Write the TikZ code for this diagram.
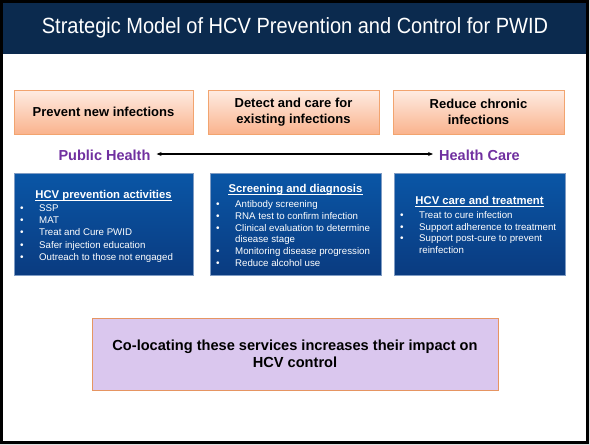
\documentclass[tikz,border=0pt]{standalone}
\usepackage{fontspec}
\setmainfont{Liberation Sans}
\newfontfamily\headfont[FakeStretch=0.91]{Liberation Sans}
\usetikzlibrary{arrows.meta}

\definecolor{navy}{HTML}{0B2A4E}
\definecolor{orangeedge}{HTML}{F2A46F}
\definecolor{orangetop}{HTML}{FEECE3}
\definecolor{orangebot}{HTML}{FAB38D}
\definecolor{bluetop}{HTML}{0A56A6}
\definecolor{bluebot}{HTML}{0A3B80}
\definecolor{blueedge}{HTML}{7F9CC4}
\definecolor{phpurple}{HTML}{7030A0}
\definecolor{lavender}{HTML}{DAC7EE}
\definecolor{lavenderedge}{HTML}{E69562}

\begin{document}
\begin{tikzpicture}[x=1pt,y=-1pt,
  goal/.style={draw=orangeedge, line width=0.8pt, top color=orangetop,
    bottom color=orangebot, minimum height=44pt, align=center,
    inner sep=0pt, font=\fontsize{13}{16}\selectfont\bfseries},
  panel/.style={draw=blueedge, line width=0.6pt, top color=bluetop,
    bottom color=bluebot, minimum width=171pt, minimum height=102pt,
    inner sep=0pt},
  sector/.style={text=phpurple, inner sep=2pt,
    font=\fontsize{14.5}{17}\selectfont\bfseries},
  paneltitle/.style={text=white, inner sep=0pt, anchor=base,
    font=\fontsize{11.3}{13}\selectfont\bfseries},
  dot/.style={text=white, inner sep=0pt, anchor=base west,
    font=\fontsize{10}{12}\selectfont},
  item/.style={text=white, inner sep=0pt, anchor=base west,
    font=\fontsize{9.7}{12}\selectfont},
  ul/.style={white, line width=0.8pt}
]
\useasboundingbox (0,0) rectangle (590,445);

% page background and frame
\fill[gray!25] (0,0) rectangle (590,445);
\fill[white] (0,0) rectangle (588.5,443.5);
\fill[navy] (0,0) rectangle (588,54);
\draw[black, line width=3pt] (1.5,1.5) rectangle (587,442);

% title
\node[text=white, inner sep=0pt, anchor=base,
  font=\headfont\fontsize{22}{25}\selectfont] (title) at (295,33.5)
  {Strategic Model of HCV Prevention and Control for PWID};

% goals
\node[goal, minimum width=179pt] (g1) at (103.5,112) {Prevent new infections};
\node[goal, minimum width=171pt] (g2) at (293.5,112) {Detect and care for\\existing infections};
\node[goal, minimum width=171pt] (g3) at (478.5,112) {Reduce chronic\\infections};

% sectors
\node[sector] (ph) at (104.5,155.5) {Public Health};
\node[sector] (hc) at (479.5,155.5) {Health Care};
\draw[{Stealth[length=5pt,width=4pt]}-{Stealth[length=5pt,width=4pt]}, line width=1.2pt]
  ([xshift=4pt,yshift=1.5pt]ph.east) -- ([xshift=-4pt,yshift=1.5pt]hc.west);

% panels
\node[panel, minimum width=179pt] (p1) at (103.5,224) {};
\node[panel] (p2) at (295.5,224) {};
\node[panel] (p3) at (479.5,224) {};

% panel 1
\node[paneltitle] (t1) at (103.5,198) {HCV prevention activities};
\draw[ul] ([yshift=-2pt]t1.base west) -- ([yshift=-2pt]t1.base east);
\foreach \y/\txt [count=\i] in {211.7/SSP, 223.8/MAT, 235.9/Treat and Cure PWID,
    248/Safer injection education, 260.1/Outreach to those not engaged}{
  \node[dot] (d1\i) at (20,\y) {\textbullet};
  \node[item] (i1\i) at (39,\y) {\txt};
}

% panel 2
\node[paneltitle] (t2) at (295.5,192.3) {Screening and diagnosis};
\draw[ul] ([yshift=-2pt]t2.base west) -- ([yshift=-2pt]t2.base east);
\foreach \y/\txt [count=\i] in {207.4/Antibody screening,
    219.2/RNA test to confirm infection,
    231/Clinical evaluation to determine,
    254.6/Monitoring disease progression,
    266.4/Reduce alcohol use}{
  \node[dot] (d2\i) at (216,\y) {\textbullet};
  \node[item] (i2\i) at (235,\y) {\txt};
}
\node[item] (i2c) at (235,242.8) {disease stage};

% panel 3
\node[paneltitle] (t3) at (479.5,204) {HCV care and treatment};
\draw[ul] ([yshift=-2pt]t3.base west) -- ([yshift=-2pt]t3.base east);
\foreach \y/\txt [count=\i] in {218.4/Treat to cure infection,
    230.1/Support adherence to treatment,
    241.8/Support post-cure to prevent}{
  \node[dot] (d3\i) at (400,\y) {\textbullet};
  \node[item] (i3\i) at (419,\y) {\txt};
}
\node[item] (i3c) at (419,253.5) {reinfection};

% summary
\node[draw=lavenderedge, line width=0.8pt, fill=lavender,
  minimum width=406pt, minimum height=72pt, align=center, inner sep=0pt,
  font=\fontsize{14.6}{17.5}\selectfont\bfseries] (sum) at (295,354)
  {Co-locating these services increases their impact on\\HCV control};
\end{tikzpicture}
\end{document}
